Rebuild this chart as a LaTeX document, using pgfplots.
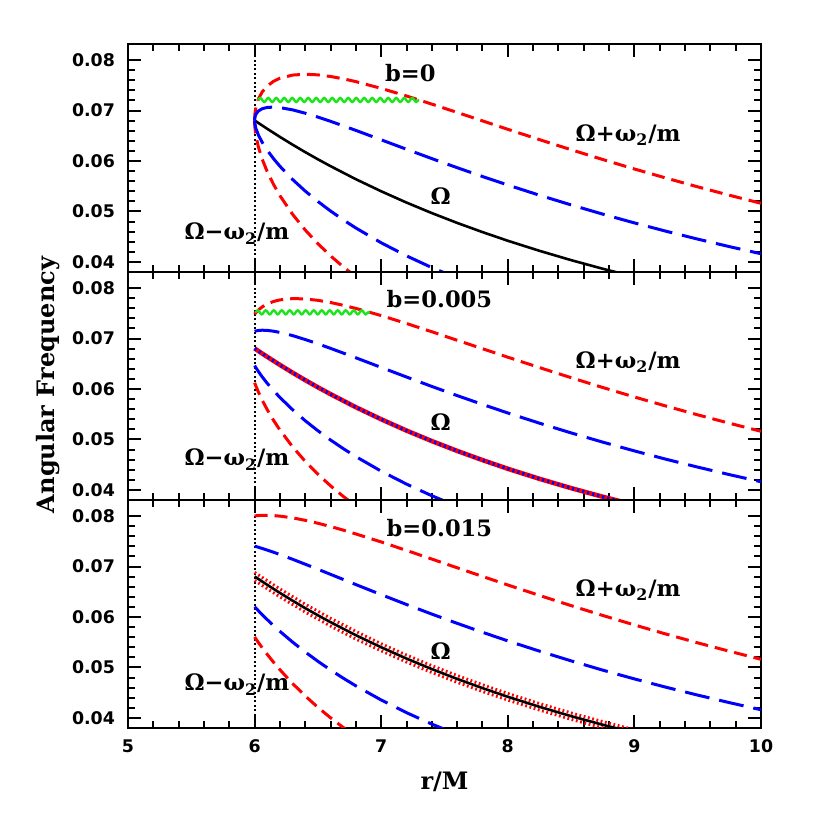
\documentclass[border=0pt]{standalone}
\usepackage{pgfplots}
\pgfplotsset{compat=1.18}
\usepackage{fontspec}
\newfontfamily\tickf{DejaVu Sans}
\newfontfamily\labf{DejaVu Serif}
\usetikzlibrary{decorations.pathmorphing}
\definecolor{lime}{rgb}{0.1,0.9,0.1}
\newcommand\ann{\labf\bfseries\fontsize{11.3}{13}\selectfont}
\pgfplotsset{
 panel/.style={
  scale only axis, width=316.5pt, height=114pt,
  xmin=5, xmax=10, ymin=0.038, ymax=0.0832,
  xtick={5,6,7,8,9,10}, minor x tick num=4,
  ytick={0.04,0.05,0.06,0.07,0.08}, yticklabels={0.04,0.05,0.06,0.07,0.08},
  minor y tick num=4, scaled y ticks=false,
  tick align=inside, major tick length=6.5pt, minor tick length=3.5pt,
  every tick/.style={line width=1pt, black},
  axis line style={line width=1.3pt},
  tick label style={font=\tickf\bfseries\fontsize{8.7}{10}\selectfont},
  yticklabel style={xshift=-3pt},
  xticklabel style={yshift=-2.5pt},
  anchor=south west,
 },
 rdash/.style={red, line width=1.5pt, dash pattern=on 6.5pt off 3.5pt},
 bdash/.style={blue, line width=1.5pt, dash pattern=on 12.5pt off 5pt},
 om/.style={black, line width=1.3pt},
 vdot/.style={black, line width=1.1pt, dash pattern=on 1pt off 1.2pt},
 wig/.style={lime, line width=1.2pt, decorate, decoration={snake, segment length=4pt, amplitude=1pt}},
 rdot/.style={red, line width=1.5pt, dash pattern=on 0.9pt off 1.3pt},
}
\begin{document}
\begin{tikzpicture}
\useasboundingbox (0,0) rectangle (415pt,415pt);
% ---------------- panel 1: b=0
\begin{axis}[panel, at={(64pt,279pt)}, xticklabels={}]
\addplot[vdot] coordinates {(6,0.03)(6,0.09)};
\addplot[om] coordinates {(6.0,0.06804)(6.1,0.06638)(6.2,0.06478)(6.3,0.06324)(6.4,0.06176)(6.5,0.06034)(6.6,0.05898)(6.8,0.05639)(7.0,0.05400)(7.2,0.05176)(7.4,0.04968)(7.6,0.04773)(7.8,0.04591)(8.0,0.04419)(8.25,0.04220)(8.5,0.04035)(8.75,0.03864)(9.0,0.03704)};
\addplot[rdash] coordinates {(6.00,0.06804)(6.002,0.06925)(6.01,0.07064)(6.03,0.07230)(6.06,0.07370)(6.1,0.07487)(6.15,0.07581)(6.2,0.07641)(6.3,0.07704)(6.4,0.07720)(6.5,0.07708)(6.6,0.07676)(6.7,0.07630)(6.8,0.07574)(7.0,0.07440)(7.2,0.07289)(7.4,0.07128)(7.6,0.06963)(7.8,0.06796)(8.0,0.06629)(8.25,0.06424)(8.5,0.06224)(8.75,0.06030)(9.0,0.05842)(9.25,0.05662)(9.5,0.05488)(9.75,0.05322)(10,0.05162)};
\addplot[rdash] coordinates {(6.00,0.06804)(6.002,0.06676)(6.01,0.06510)(6.03,0.06277)(6.06,0.06036)(6.1,0.05788)(6.15,0.05533)(6.2,0.05314)(6.3,0.04944)(6.4,0.04632)(6.5,0.04361)(6.6,0.04120)(6.7,0.03902)(6.8,0.03705)};
\addplot[bdash] coordinates {(6.00,0.06804)(6.002,0.06863)(6.01,0.06926)(6.03,0.06992)(6.06,0.07037)(6.1,0.07062)(6.15,0.07069)(6.2,0.07059)(6.3,0.07014)(6.4,0.06948)(6.5,0.06871)(6.6,0.06787)(6.7,0.06698)(6.8,0.06607)(7.0,0.06420)(7.2,0.06233)(7.4,0.06048)(7.6,0.05868)(7.8,0.05693)(8.0,0.05524)(8.25,0.05322)(8.5,0.05130)(8.75,0.04947)(9.0,0.04773)(9.25,0.04608)(9.5,0.04452)(9.75,0.04303)(10,0.04162)};
\addplot[bdash] coordinates {(6.00,0.06804)(6.002,0.06739)(6.01,0.06649)(6.03,0.06515)(6.06,0.06370)(6.1,0.06213)(6.15,0.06045)(6.2,0.05896)(6.3,0.05634)(6.4,0.05404)(6.5,0.05198)(6.6,0.05009)(6.7,0.04834)(6.8,0.04672)(7.0,0.04379)(7.2,0.04120)(7.4,0.03887)(7.6,0.03678)};
\addplot[wig] coordinates {(6.025,0.0721)(7.30,0.0721)};
\node[font=\ann] at (axis cs:7.23,0.0774) {b=0};
\node[font=\ann] at (axis cs:8.95,0.0652) {Ω+ω\textsubscript{2}/m};
\node[font=\ann] at (axis cs:7.47,0.0530) {Ω};
\node[font=\ann] at (axis cs:5.86,0.0456) {Ω−ω\textsubscript{2}/m};
\end{axis}
% ---------------- panel 2: b=0.005
\begin{axis}[panel, at={(64pt,165pt)}, xticklabels={}]
\addplot[vdot] coordinates {(6,0.03)(6,0.09)};
\addplot[red, line width=2.3pt] coordinates {(6.0,0.06804)(6.1,0.06638)(6.2,0.06478)(6.3,0.06324)(6.4,0.06176)(6.5,0.06034)(6.6,0.05898)(6.8,0.05639)(7.0,0.05400)(7.2,0.05176)(7.4,0.04968)(7.6,0.04773)(7.8,0.04591)(8.0,0.04419)(8.25,0.04220)(8.5,0.04035)(8.75,0.03864)(9.0,0.03704)};
\addplot[blue, line width=1.6pt, dash pattern=on 1.1pt off 1.5pt] coordinates {(6.0,0.06804)(6.1,0.06638)(6.2,0.06478)(6.3,0.06324)(6.4,0.06176)(6.5,0.06034)(6.6,0.05898)(6.8,0.05639)(7.0,0.05400)(7.2,0.05176)(7.4,0.04968)(7.6,0.04773)(7.8,0.04591)(8.0,0.04419)(8.25,0.04220)(8.5,0.04035)(8.75,0.03864)(9.0,0.03704)};
\addplot[rdash] coordinates {(6.00,0.07484)(6.01,0.07515)(6.03,0.07567)(6.06,0.07628)(6.1,0.07687)(6.15,0.07736)(6.2,0.07767)(6.3,0.07793)(6.4,0.07786)(6.5,0.07758)(6.6,0.07715)(6.7,0.07660)(6.8,0.07598)(7.0,0.07456)(7.2,0.07299)(7.4,0.07135)(7.6,0.06967)(7.8,0.06799)(8.0,0.06631)(8.25,0.06425)(8.5,0.06225)(8.75,0.06030)(9.0,0.05842)(9.25,0.05662)(9.5,0.05488)(9.75,0.05322)(10,0.05162)};
\addplot[rdash] coordinates {(6.00,0.06124)(6.01,0.06060)(6.03,0.05940)(6.06,0.05779)(6.1,0.05589)(6.15,0.05377)(6.2,0.05188)(6.3,0.04855)(6.4,0.04566)(6.5,0.04311)(6.6,0.04081)(6.7,0.03872)(6.8,0.03681)};
\addplot[bdash] coordinates {(6.00,0.07144)(6.01,0.07151)(6.03,0.07160)(6.06,0.07166)(6.1,0.07162)(6.15,0.07146)(6.2,0.07122)(6.3,0.07059)(6.4,0.06981)(6.5,0.06896)(6.6,0.06806)(6.7,0.06713)(6.8,0.06619)(7.0,0.06428)(7.2,0.06238)(7.4,0.06051)(7.6,0.05870)(7.8,0.05695)(8.0,0.05525)(8.25,0.05323)(8.5,0.05130)(8.75,0.04947)(9.0,0.04773)(9.25,0.04608)(9.5,0.04452)(9.75,0.04303)(10,0.04162)};
\addplot[bdash] coordinates {(6.00,0.06464)(6.01,0.06423)(6.03,0.06347)(6.06,0.06241)(6.1,0.06113)(6.15,0.05967)(6.2,0.05833)(6.3,0.05590)(6.4,0.05371)(6.5,0.05173)(6.6,0.04989)(6.7,0.04819)(6.8,0.04660)(7.0,0.04371)(7.2,0.04115)(7.4,0.03884)(7.6,0.03676)};
\addplot[wig] coordinates {(6.005,0.0752)(6.91,0.0752)};
\node[font=\ann] at (axis cs:7.46,0.0779) {b=0.005};
\node[font=\ann] at (axis cs:8.95,0.0654) {Ω+ω\textsubscript{2}/m};
\node[font=\ann] at (axis cs:7.47,0.0534) {Ω};
\node[font=\ann] at (axis cs:5.86,0.0460) {Ω−ω\textsubscript{2}/m};
\end{axis}
% ---------------- panel 3: b=0.015
\begin{axis}[panel, at={(64pt,51pt)}, xticklabels={5,6,7,8,9,10}]
\addplot[vdot] coordinates {(6,0.03)(6,0.09)};
\addplot[rdot] coordinates {(6.0,0.06884)(6.2,0.06557)(6.4,0.06254)(6.6,0.05975)(6.8,0.05715)(7.0,0.05470)(7.2,0.05245)(7.4,0.05036)(7.6,0.04840)(7.8,0.04657)(8.0,0.04484)(8.25,0.04284)(8.5,0.04098)(8.75,0.03926)(9.0,0.03764)};
\addplot[rdot] coordinates {(6.0,0.06724)(6.2,0.06399)(6.4,0.06098)(6.6,0.05821)(6.8,0.05563)(7.0,0.05330)(7.2,0.05107)(7.4,0.04900)(7.6,0.04706)(7.8,0.04525)(8.0,0.04354)(8.25,0.04156)(8.5,0.03972)(8.75,0.03802)(9.0,0.03644)};
\addplot[om] coordinates {(6.0,0.06804)(6.1,0.06638)(6.2,0.06478)(6.3,0.06324)(6.4,0.06176)(6.5,0.06034)(6.6,0.05898)(6.8,0.05639)(7.0,0.05400)(7.2,0.05176)(7.4,0.04968)(7.6,0.04773)(7.8,0.04591)(8.0,0.04419)(8.25,0.04220)(8.5,0.04035)(8.75,0.03864)(9.0,0.03704)};
\addplot[rdash] coordinates {(6.00,0.08004)(6.01,0.08007)(6.03,0.08012)(6.06,0.08016)(6.1,0.08016)(6.15,0.08011)(6.2,0.08000)(6.3,0.07966)(6.4,0.07917)(6.5,0.07859)(6.6,0.07794)(6.7,0.07723)(6.8,0.07647)(7.0,0.07488)(7.2,0.07320)(7.4,0.07149)(7.6,0.06976)(7.8,0.06805)(8.0,0.06635)(8.25,0.06428)(8.5,0.06226)(8.75,0.06031)(9.0,0.05843)(9.25,0.05662)(9.5,0.05488)(9.75,0.05322)(10,0.05162)};
\addplot[rdash] coordinates {(6.00,0.05604)(6.01,0.05567)(6.03,0.05495)(6.06,0.05391)(6.1,0.05259)(6.15,0.05102)(6.2,0.04955)(6.3,0.04682)(6.4,0.04435)(6.5,0.04209)(6.6,0.04002)(6.7,0.03810)(6.8,0.03631)};
\addplot[bdash] coordinates {(6.00,0.07404)(6.01,0.07397)(6.03,0.07383)(6.06,0.07359)(6.1,0.07327)(6.15,0.07284)(6.2,0.07239)(6.3,0.07145)(6.4,0.07047)(6.5,0.06947)(6.6,0.06846)(6.7,0.06745)(6.8,0.06643)(7.0,0.06444)(7.2,0.06248)(7.4,0.06058)(7.6,0.05875)(7.8,0.05698)(8.0,0.05527)(8.25,0.05324)(8.5,0.05131)(8.75,0.04947)(9.0,0.04773)(9.25,0.04608)(9.5,0.04452)(9.75,0.04303)(10,0.04162)};
\addplot[bdash] coordinates {(6.00,0.06204)(6.01,0.06177)(6.03,0.06124)(6.06,0.06047)(6.1,0.05948)(6.15,0.05829)(6.2,0.05716)(6.3,0.05503)(6.4,0.05306)(6.5,0.05122)(6.6,0.04950)(6.7,0.04788)(6.8,0.04635)(7.0,0.04355)(7.2,0.04104)(7.4,0.03877)(7.6,0.03672)};
\node[font=\ann] at (axis cs:7.46,0.0776) {b=0.015};
\node[font=\ann] at (axis cs:8.95,0.0654) {Ω+ω\textsubscript{2}/m};
\node[font=\ann] at (axis cs:7.47,0.0532) {Ω};
\node[font=\ann] at (axis cs:5.86,0.0466) {Ω−ω\textsubscript{2}/m};
\end{axis}
\node[font=\labf\bfseries\fontsize{12}{14}\selectfont] at (222.25pt,24pt) {r/M};
\node[font=\labf\bfseries\fontsize{12}{14}\selectfont, rotate=90] at (24pt,222.5pt) {Angular Frequency};
\end{tikzpicture}
\end{document}
